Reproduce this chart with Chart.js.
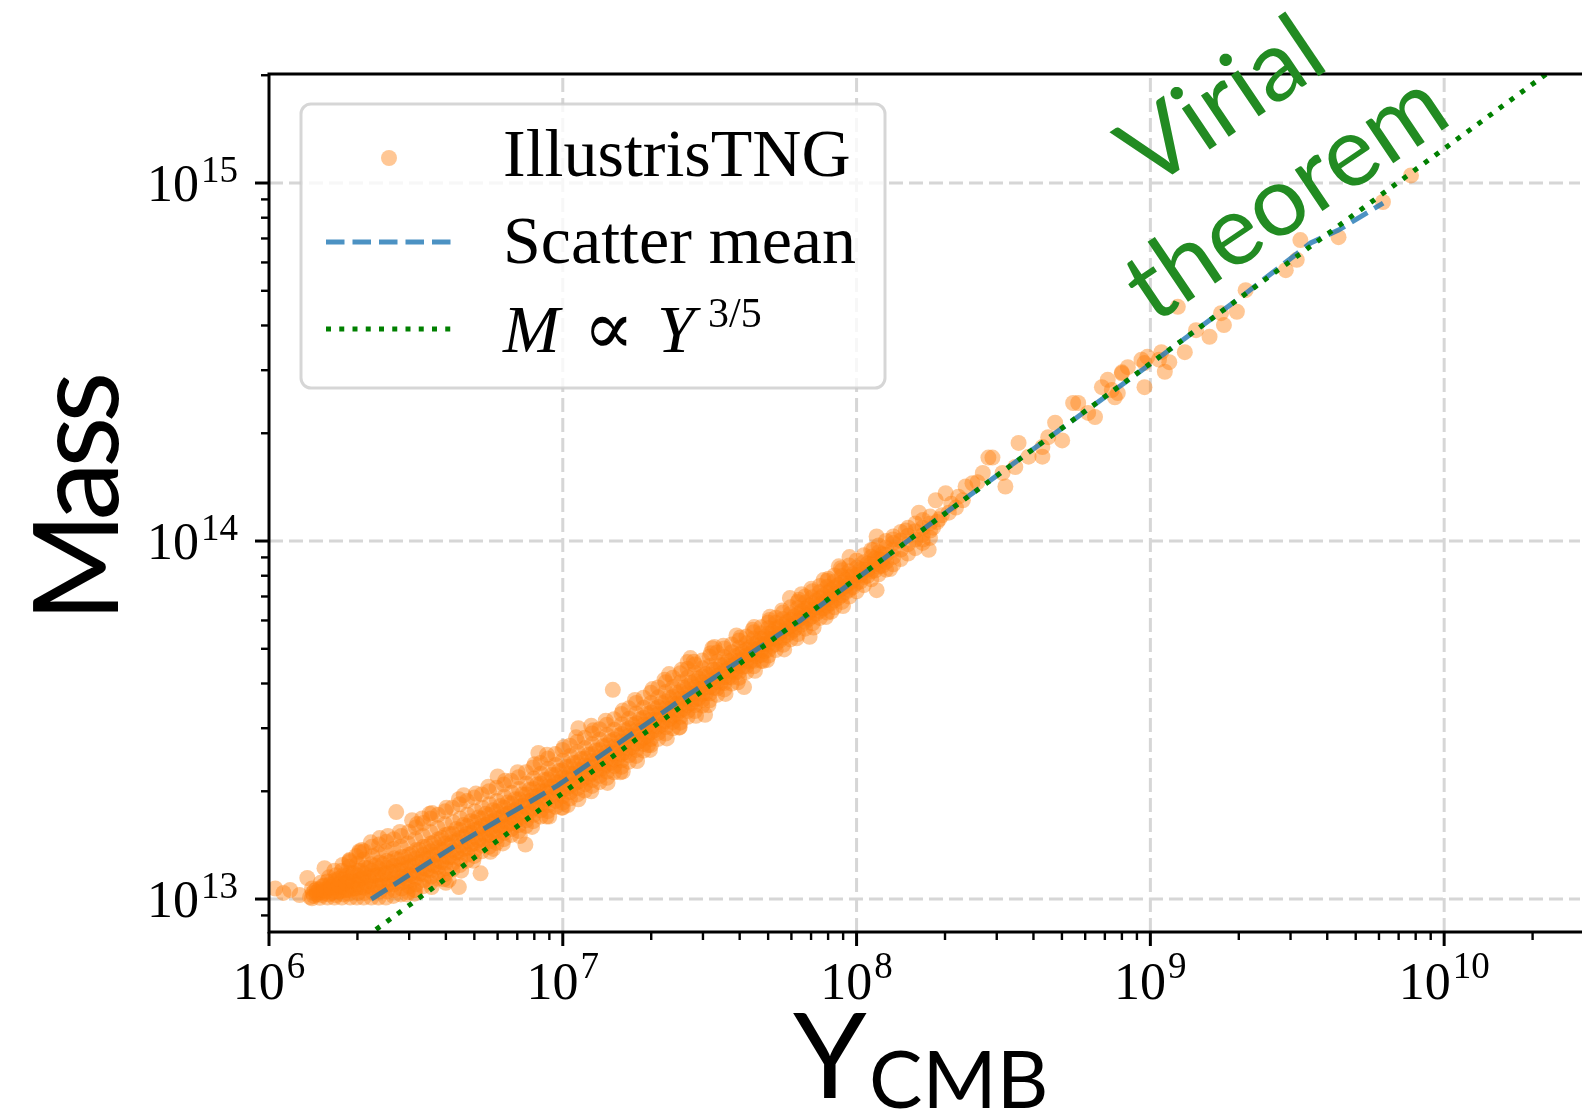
<!DOCTYPE html>
<html><head><meta charset="utf-8">
<script src="https://cdn.jsdelivr.net/npm/chart.js@4.4.1/dist/chart.umd.min.js"></script>
<style>html,body{margin:0;padding:0;background:#fff;overflow:hidden}canvas{display:block}</style>
</head><body>
<canvas id="c" width="1588" height="1116"></canvas>
<script>
// ---------- DATA ----------
const illustrisTNG = [
[1.05e6,1.07e13],[1.12e6,1.04e13],[1.18e6,1.06e13],[1.27e6,1.026e13],[1.35e6,1.145e13],[1.38e6,1.013e13],[1.545e6,1.22e13],[1.88e6,1.27e13],[2.07e6,1.37e13],[2.38e6,1.48e13],[2.71e6,1.75e13],[2.03e6,1.35e13],[1.88e6,1.285e13],[3.32e6,1.68e13],[3.07e6,1.66e13],[3.59e6,1.74e13],
[4.43e6,1.08e13],[5.25e6,1.18e13],[7.46e6,1.42e13],[3.12e6,1.06e13],[4.0e6,1.11e13],[2.95e6,1.03e13],[4.09e6,1.13e13],[1.0e7,1.80e13],[1.04e7,1.83e13],[1.95e7,2.69e13],[3.05e7,3.27e13],
[8.26e6,2.56e13],[1.13e7,3.0e13],[1.48e7,3.84e13],[2.72e7,4.71e13],[3.23e7,5.02e13],
[2.66e7,4.59e13],[3.28e7,5.06e13],[4.48e7,5.75e13],[5.07e7,6.14e13],[5.93e7,6.93e13],[7.72e7,7.78e13],[9.46e7,9.02e13],[1.17e8,1.03e14],[1.63e8,1.2e14],
[4.14e7,3.91e13],[6.92e7,5.40e13],[1.17e8,7.29e13],[1.76e8,9.45e13],
[4.6e6,1.95e13],[6.0e6,2.2e13],[1.25e7,3.05e13],[2.3e7,4.25e13],[3.9e7,5.45e13],[6.5e7,7.1e13],[8.7e7,8.5e13],
[5.8e6,1.38e13],[8.8e6,1.70e13],[1.6e7,2.27e13],[2.5e7,3.02e13],[4.8e7,4.62e13],[8.2e7,6.35e13],[1.3e8,8.35e13],
[2.03e6,1.36e13],[2.22e6,1.44e13],[2.54e6,1.50e13],[2.79e6,1.54e13],[3.19e6,1.62e13],[3.52e6,1.73e13],[4.02e6,1.80e13],[4.43e6,1.90e13],[5.06e6,1.97e13],[5.58e6,2.06e13],[6.37e6,2.14e13],[7.02e6,2.26e13],[8.02e6,2.38e13],[8.84e6,2.53e13],[1.01e7,2.66e13],[1.11e7,2.83e13],[1.27e7,2.96e13],[1.40e7,3.15e13],[1.60e7,3.36e13],[1.76e7,3.60e13],[2.02e7,3.86e13],[2.22e7,4.10e13],[2.54e7,4.37e13],[2.79e7,4.60e13],[3.19e7,4.86e13],[3.52e7,5.10e13],[4.02e7,5.38e13],[4.43e7,5.65e13],[5.06e7,6.02e13],[5.58e7,6.40e13],[6.37e7,6.85e13],[7.02e7,7.36e13],[8.02e7,7.85e13],[8.84e7,8.40e13],
[3.13e6,1.035e13],[3.58e6,1.08e13],[3.94e6,1.135e13],[4.51e6,1.20e13],[4.96e6,1.28e13],[5.67e6,1.355e13],[6.25e6,1.43e13],[7.14e6,1.50e13],[7.86e6,1.59e13],[8.99e6,1.70e13],[9.90e6,1.80e13],[1.13e7,1.90e13],[1.25e7,2.00e13],[1.42e7,2.11e13],[1.57e7,2.26e13],[1.79e7,2.43e13],[1.98e7,2.61e13],[2.26e7,2.81e13],[2.49e7,3.01e13],[2.84e7,3.25e13],[3.13e7,3.48e13],[3.58e7,3.74e13],[3.94e7,4.03e13],[4.51e7,4.34e13],[4.96e7,4.65e13],[5.67e7,4.98e13],[6.25e7,5.35e13],[7.14e7,5.73e13],[7.86e7,6.13e13],[8.99e7,6.58e13],
[1.40e6,1.005e13],[1.42e6,1.02e13],[1.41e6,1.04e13],[1.43e6,1.055e13],[1.40e6,1.07e13],
[1.49e6,1.008e13],[1.51e6,1.025e13],[1.50e6,1.045e13],[1.48e6,1.065e13],[1.52e6,1.085e13],[1.50e6,1.11e13],
[1.58e6,1.01e13],[1.60e6,1.03e13],[1.57e6,1.05e13],[1.59e6,1.07e13],[1.61e6,1.095e13],[1.58e6,1.12e13],[1.60e6,1.15e13],
[1.67e6,1.01e13],[1.69e6,1.025e13],[1.68e6,1.05e13],[1.70e6,1.075e13],[1.66e6,1.10e13],[1.68e6,1.13e13],[1.69e6,1.165e13],[1.67e6,1.20e13],
[1.77e6,1.01e13],[1.79e6,1.03e13],[1.78e6,1.055e13],[1.76e6,1.08e13],[1.80e6,1.105e13],[1.78e6,1.135e13],[1.79e6,1.165e13],[1.77e6,1.20e13],[1.78e6,1.245e13],
[1.89e6,1.01e13],[1.87e6,1.035e13],[1.88e6,1.06e13],[1.90e6,1.09e13],[1.86e6,1.12e13],[1.88e6,1.15e13],[1.89e6,1.185e13],[1.87e6,1.23e13],[1.88e6,1.28e13],
[1.99e6,1.01e13],[2.01e6,1.04e13],[1.98e6,1.07e13],[2.00e6,1.10e13],[2.02e6,1.13e13],[1.99e6,1.165e13],[2.01e6,1.20e13],[2.00e6,1.255e13],[1.98e6,1.32e13],
[2.10e6,1.01e13],[2.12e6,1.04e13],[2.11e6,1.075e13],[2.13e6,1.11e13],[2.09e6,1.145e13],[2.11e6,1.18e13],[2.12e6,1.225e13],[2.10e6,1.29e13],[2.11e6,1.36e13],
[2.23e6,1.01e13],[2.25e6,1.045e13],[2.24e6,1.08e13],[2.22e6,1.12e13],[2.26e6,1.16e13],[2.24e6,1.20e13],[2.23e6,1.25e13],[2.25e6,1.32e13],[2.24e6,1.40e13],
[2.36e6,1.01e13],[2.38e6,1.05e13],[2.37e6,1.09e13],[2.39e6,1.13e13],[2.35e6,1.17e13],[2.37e6,1.215e13],[2.38e6,1.265e13],[2.36e6,1.34e13],[2.37e6,1.42e13],
[2.50e6,1.01e13],[2.52e6,1.05e13],[2.51e6,1.09e13],[2.53e6,1.135e13],[2.49e6,1.18e13],[2.51e6,1.225e13],[2.52e6,1.28e13],[2.50e6,1.36e13],[2.51e6,1.445e13],
[2.65e6,1.02e13],[2.67e6,1.06e13],[2.66e6,1.10e13],[2.68e6,1.145e13],[2.64e6,1.19e13],[2.66e6,1.24e13],[2.67e6,1.30e13],[2.65e6,1.38e13],[2.66e6,1.47e13],
[2.81e6,1.03e13],[2.83e6,1.07e13],[2.82e6,1.11e13],[2.84e6,1.155e13],[2.80e6,1.20e13],[2.82e6,1.25e13],[2.83e6,1.31e13],[2.81e6,1.40e13],[2.82e6,1.50e13],
[2.97e6,1.045e13],[3.00e6,1.085e13],[2.98e6,1.125e13],[3.01e6,1.17e13],[2.96e6,1.22e13],[2.99e6,1.27e13],[3.00e6,1.33e13],[2.97e6,1.43e13],[2.99e6,1.54e13],
[3.15e6,1.06e13],[3.17e6,1.10e13],[3.16e6,1.145e13],[3.18e6,1.19e13],[3.14e6,1.24e13],[3.16e6,1.30e13],[3.17e6,1.37e13],[3.15e6,1.47e13],[3.16e6,1.585e13],
[3.34e6,1.085e13],[3.36e6,1.13e13],[3.35e6,1.175e13],[3.37e6,1.22e13],[3.33e6,1.27e13],[3.35e6,1.33e13],[3.36e6,1.40e13],[3.34e6,1.50e13],[3.35e6,1.63e13],
[3.54e6,1.11e13],[3.56e6,1.155e13],[3.55e6,1.20e13],[3.57e6,1.25e13],[3.53e6,1.30e13],[3.55e6,1.36e13],[3.56e6,1.43e13],[3.54e6,1.54e13],[3.55e6,1.68e13],
[3.75e6,1.14e13],[3.77e6,1.185e13],[3.76e6,1.23e13],[3.78e6,1.28e13],[3.74e6,1.33e13],[3.76e6,1.39e13],[3.77e6,1.47e13],[3.75e6,1.58e13],[3.76e6,1.72e13],
[3.97e6,1.175e13],[3.99e6,1.22e13],[3.98e6,1.265e13],[4.00e6,1.315e13],[3.96e6,1.37e13],[3.98e6,1.43e13],[3.99e6,1.51e13],[3.97e6,1.62e13],[3.98e6,1.76e13],
[4.21e6,1.21e13],[4.23e6,1.26e13],[4.22e6,1.31e13],[4.24e6,1.37e13],[4.20e6,1.44e13],[4.22e6,1.52e13],[4.23e6,1.64e13],[4.21e6,1.80e13],
[4.46e6,1.245e13],[4.48e6,1.295e13],[4.47e6,1.35e13],[4.49e6,1.41e13],[4.45e6,1.48e13],[4.47e6,1.56e13],[4.48e6,1.68e13],[4.46e6,1.84e13],
[4.72e6,1.28e13],[4.74e6,1.33e13],[4.73e6,1.39e13],[4.75e6,1.45e13],[4.71e6,1.52e13],[4.73e6,1.60e13],[4.74e6,1.72e13],[4.72e6,1.88e13],
[5.00e6,1.32e13],[5.02e6,1.37e13],[5.01e6,1.43e13],[5.03e6,1.49e13],[4.99e6,1.56e13],[5.01e6,1.64e13],[5.02e6,1.76e13],[5.00e6,1.92e13],
[5.30e6,1.36e13],[5.32e6,1.41e13],[5.31e6,1.47e13],[5.33e6,1.53e13],[5.29e6,1.60e13],[5.31e6,1.68e13],[5.32e6,1.80e13],[5.30e6,1.96e13],
[5.61e6,1.40e13],[5.63e6,1.45e13],[5.62e6,1.51e13],[5.64e6,1.57e13],[5.60e6,1.64e13],[5.62e6,1.72e13],[5.63e6,1.84e13],[5.61e6,2.00e13],
[5.95e6,1.435e13],[5.97e6,1.49e13],[5.96e6,1.55e13],[5.98e6,1.61e13],[5.94e6,1.68e13],[5.96e6,1.76e13],[5.97e6,1.88e13],[5.95e6,2.045e13],
[6.30e6,1.47e13],[6.32e6,1.53e13],[6.31e6,1.59e13],[6.33e6,1.65e13],[6.29e6,1.72e13],[6.31e6,1.80e13],[6.32e6,1.93e13],[6.30e6,2.09e13],
[6.67e6,1.51e13],[6.69e6,1.57e13],[6.68e6,1.63e13],[6.70e6,1.69e13],[6.66e6,1.76e13],[6.68e6,1.85e13],[6.69e6,1.98e13],[6.67e6,2.14e13],
[7.07e6,1.55e13],[7.09e6,1.61e13],[7.08e6,1.67e13],[7.10e6,1.74e13],[7.06e6,1.81e13],[7.08e6,1.90e13],[7.09e6,2.03e13],[7.07e6,2.19e13],
[7.49e6,1.60e13],[7.51e6,1.66e13],[7.50e6,1.73e13],[7.52e6,1.80e13],[7.48e6,1.87e13],[7.50e6,1.96e13],[7.51e6,2.10e13],[7.49e6,2.26e13],
[7.93e6,1.65e13],[7.95e6,1.72e13],[7.94e6,1.79e13],[7.96e6,1.86e13],[7.92e6,1.93e13],[7.94e6,2.03e13],[7.95e6,2.17e13],[7.93e6,2.33e13],
[8.40e6,1.70e13],[8.42e6,1.77e13],[8.41e6,1.84e13],[8.43e6,1.92e13],[8.39e6,2.00e13],[8.41e6,2.10e13],[8.42e6,2.24e13],[8.40e6,2.40e13],
[8.90e6,1.76e13],[8.92e6,1.83e13],[8.91e6,1.90e13],[8.93e6,1.98e13],[8.89e6,2.06e13],[8.91e6,2.16e13],[8.92e6,2.31e13],[8.90e6,2.47e13],
[9.43e6,1.81e13],[9.45e6,1.88e13],[9.44e6,1.96e13],[9.46e6,2.04e13],[9.42e6,2.12e13],[9.44e6,2.22e13],[9.45e6,2.37e13],[9.43e6,2.54e13],
[9.99e6,1.86e13],[1.002e7,1.94e13],[1.0e7,2.02e13],[1.003e7,2.10e13],[9.97e6,2.18e13],[1.0e7,2.29e13],[1.001e7,2.44e13],[9.98e6,2.61e13],
[1.058e7,1.91e13],[1.061e7,1.99e13],[1.059e7,2.07e13],[1.062e7,2.15e13],[1.056e7,2.24e13],[1.059e7,2.35e13],[1.060e7,2.51e13],[1.058e7,2.68e13],
[1.121e7,1.96e13],[1.124e7,2.04e13],[1.122e7,2.12e13],[1.125e7,2.21e13],[1.119e7,2.30e13],[1.122e7,2.41e13],[1.123e7,2.57e13],[1.121e7,2.75e13],
[1.188e7,2.01e13],[1.191e7,2.09e13],[1.189e7,2.18e13],[1.192e7,2.27e13],[1.186e7,2.36e13],[1.189e7,2.47e13],[1.190e7,2.64e13],[1.188e7,2.82e13],
[1.258e7,2.07e13],[1.261e7,2.15e13],[1.259e7,2.24e13],[1.262e7,2.33e13],[1.256e7,2.43e13],[1.259e7,2.54e13],[1.260e7,2.71e13],[1.258e7,2.90e13],
[1.333e7,2.12e13],[1.336e7,2.21e13],[1.334e7,2.30e13],[1.337e7,2.39e13],[1.331e7,2.49e13],[1.334e7,2.61e13],[1.335e7,2.79e13],[1.333e7,2.98e13],
[1.412e7,2.18e13],[1.415e7,2.27e13],[1.413e7,2.37e13],[1.416e7,2.46e13],[1.410e7,2.57e13],[1.413e7,2.69e13],[1.414e7,2.87e13],[1.412e7,3.07e13],
[1.495e7,2.26e13],[1.498e7,2.35e13],[1.496e7,2.45e13],[1.499e7,2.55e13],[1.493e7,2.66e13],[1.496e7,2.79e13],[1.497e7,2.97e13],[1.495e7,3.18e13],
[1.584e7,2.34e13],[1.587e7,2.44e13],[1.585e7,2.54e13],[1.588e7,2.64e13],[1.582e7,2.76e13],[1.585e7,2.89e13],[1.586e7,3.08e13],[1.584e7,3.29e13],
[1.678e7,2.42e13],[1.681e7,2.52e13],[1.679e7,2.63e13],[1.682e7,2.74e13],[1.676e7,2.86e13],[1.679e7,3.00e13],[1.680e7,3.19e13],[1.678e7,3.41e13],
[1.777e7,2.51e13],[1.780e7,2.61e13],[1.778e7,2.72e13],[1.781e7,2.84e13],[1.775e7,2.96e13],[1.778e7,3.10e13],[1.779e7,3.30e13],[1.777e7,3.53e13],
[1.883e7,2.60e13],[1.886e7,2.71e13],[1.884e7,2.82e13],[1.887e7,2.94e13],[1.881e7,3.07e13],[1.884e7,3.21e13],[1.885e7,3.42e13],[1.883e7,3.65e13],
[1.994e7,2.69e13],[1.997e7,2.80e13],[1.995e7,2.92e13],[1.998e7,3.04e13],[1.992e7,3.17e13],[1.995e7,3.32e13],[1.996e7,3.53e13],[1.994e7,3.77e13],
[2.112e7,2.80e13],[2.115e7,2.91e13],[2.113e7,3.03e13],[2.116e7,3.16e13],[2.110e7,3.29e13],[2.113e7,3.44e13],[2.114e7,3.66e13],[2.112e7,3.90e13],
[2.238e7,2.90e13],[2.241e7,3.02e13],[2.239e7,3.14e13],[2.242e7,3.27e13],[2.236e7,3.41e13],[2.239e7,3.57e13],[2.240e7,3.79e13],[2.238e7,4.03e13],
[2.370e7,3.00e13],[2.373e7,3.12e13],[2.371e7,3.25e13],[2.374e7,3.38e13],[2.368e7,3.52e13],[2.371e7,3.68e13],[2.372e7,3.91e13],[2.370e7,4.15e13],
[2.511e7,3.11e13],[2.514e7,3.23e13],[2.512e7,3.36e13],[2.515e7,3.50e13],[2.509e7,3.64e13],[2.512e7,3.80e13],[2.513e7,4.03e13],[2.511e7,4.27e13],
[2.660e7,3.23e13],[2.663e7,3.35e13],[2.661e7,3.48e13],[2.664e7,3.62e13],[2.658e7,3.77e13],[2.661e7,3.93e13],[2.662e7,4.16e13],[2.660e7,4.40e13],
[2.817e7,3.35e13],[2.820e7,3.48e13],[2.818e7,3.61e13],[2.821e7,3.75e13],[2.815e7,3.90e13],[2.818e7,4.06e13],[2.819e7,4.28e13],[2.817e7,4.52e13],
[2.984e7,3.47e13],[2.987e7,3.60e13],[2.985e7,3.74e13],[2.988e7,3.88e13],[2.982e7,4.03e13],[2.985e7,4.19e13],[2.986e7,4.41e13],[2.984e7,4.64e13],
[3.161e7,3.59e13],[3.164e7,3.75e13],[3.162e7,3.91e13],[3.165e7,4.07e13],[3.159e7,4.24e13],[3.162e7,4.48e13],[3.161e7,4.76e13],
[3.349e7,3.72e13],[3.352e7,3.88e13],[3.350e7,4.04e13],[3.353e7,4.20e13],[3.347e7,4.37e13],[3.350e7,4.60e13],[3.349e7,4.88e13],
[3.547e7,3.85e13],[3.550e7,4.01e13],[3.548e7,4.17e13],[3.551e7,4.34e13],[3.545e7,4.51e13],[3.548e7,4.74e13],[3.547e7,5.01e13],
[3.757e7,4.00e13],[3.760e7,4.16e13],[3.758e7,4.32e13],[3.761e7,4.49e13],[3.755e7,4.66e13],[3.758e7,4.89e13],[3.757e7,5.14e13],
[3.980e7,4.15e13],[3.983e7,4.31e13],[3.981e7,4.47e13],[3.984e7,4.64e13],[3.978e7,4.81e13],[3.981e7,5.03e13],[3.980e7,5.27e13],
[4.216e7,4.31e13],[4.219e7,4.47e13],[4.217e7,4.63e13],[4.220e7,4.80e13],[4.214e7,4.97e13],[4.217e7,5.18e13],[4.216e7,5.41e13],
[4.466e7,4.47e13],[4.469e7,4.63e13],[4.467e7,4.80e13],[4.470e7,4.97e13],[4.464e7,5.14e13],[4.467e7,5.34e13],[4.466e7,5.56e13],
[4.731e7,4.63e13],[4.734e7,4.80e13],[4.732e7,4.97e13],[4.735e7,5.15e13],[4.729e7,5.33e13],[4.732e7,5.53e13],[4.731e7,5.74e13],
[5.011e7,4.79e13],[5.014e7,4.97e13],[5.012e7,5.15e13],[5.015e7,5.33e13],[5.009e7,5.52e13],[5.012e7,5.72e13],[5.011e7,5.92e13],
[5.308e7,4.96e13],[5.311e7,5.15e13],[5.309e7,5.34e13],[5.312e7,5.52e13],[5.306e7,5.71e13],[5.309e7,5.91e13],[5.308e7,6.11e13],
[5.622e7,5.13e13],[5.625e7,5.37e13],[5.623e7,5.60e13],[5.626e7,5.83e13],[5.620e7,6.06e13],[5.623e7,6.31e13],
[5.956e7,5.31e13],[5.959e7,5.55e13],[5.957e7,5.79e13],[5.960e7,6.03e13],[5.954e7,6.27e13],[5.957e7,6.53e13],
[6.309e7,5.50e13],[6.312e7,5.75e13],[6.310e7,6.00e13],[6.313e7,6.25e13],[6.307e7,6.50e13],[6.310e7,6.76e13],
[6.682e7,5.69e13],[6.685e7,5.95e13],[6.683e7,6.21e13],[6.686e7,6.47e13],[6.680e7,6.73e13],[6.683e7,7.00e13],
[7.078e7,5.89e13],[7.081e7,6.16e13],[7.079e7,6.43e13],[7.082e7,6.70e13],[7.076e7,6.97e13],[7.079e7,7.24e13],
[7.498e7,6.10e13],[7.501e7,6.38e13],[7.499e7,6.66e13],[7.502e7,6.93e13],[7.496e7,7.21e13],[7.499e7,7.49e13],
[7.942e7,6.31e13],[7.945e7,6.60e13],[7.943e7,6.88e13],[7.946e7,7.17e13],[7.940e7,7.45e13],[7.943e7,7.74e13],
[8.413e7,6.53e13],[8.416e7,6.83e13],[8.414e7,7.12e13],[8.417e7,7.42e13],[8.411e7,7.71e13],[8.414e7,8.01e13],
[8.912e7,6.76e13],[8.915e7,7.06e13],[8.913e7,7.37e13],[8.916e7,7.67e13],[8.910e7,7.98e13],[8.913e7,8.28e13],
[9.440e7,7.00e13],[9.443e7,7.31e13],[9.441e7,7.62e13],[9.444e7,7.93e13],[9.438e7,8.24e13],[9.441e7,8.55e13],
[1.000e8,7.24e13],[1.001e8,7.64e13],[9.99e7,8.03e13],[1.002e8,8.43e13],[1.000e8,8.83e13],
[1.059e8,7.53e13],[1.060e8,7.93e13],[1.058e8,8.33e13],[1.061e8,8.73e13],[1.059e8,9.13e13],
[1.122e8,7.82e13],[1.123e8,8.23e13],[1.121e8,8.63e13],[1.124e8,9.04e13],[1.122e8,9.44e13],
[1.189e8,8.07e13],[1.190e8,8.48e13],[1.188e8,8.90e13],[1.191e8,9.31e13],[1.189e8,9.72e13],
[1.259e8,8.32e13],[1.260e8,8.74e13],[1.258e8,9.16e13],[1.261e8,9.58e13],[1.259e8,1.00e14],
[1.334e8,8.61e13],[1.335e8,9.03e13],[1.333e8,9.46e13],[1.336e8,9.88e13],[1.334e8,1.03e14],
[1.413e8,8.91e13],[1.414e8,9.47e13],[1.412e8,1.003e14],[1.415e8,1.06e14],
[1.496e8,9.23e13],[1.497e8,9.80e13],[1.495e8,1.035e14],[1.498e8,1.09e14],
[1.585e8,9.55e13],[1.586e8,1.01e14],[1.584e8,1.065e14],[1.587e8,1.12e14],
[1.679e8,9.88e13],[1.680e8,1.04e14],[1.678e8,1.09e14],[1.681e8,1.145e14],
[1.778e8,1.02e14],[1.779e8,1.07e14],[1.777e8,1.12e14],[1.780e8,1.17e14],
[1.454e6,1.03e13],[1.454e6,1.045e13],[1.454e6,1.065e13],[1.540e6,1.04e13],[1.540e6,1.06e13],[1.540e6,1.09e13],
[1.631e6,1.04e13],[1.631e6,1.08e13],[1.631e6,1.12e13],[1.728e6,1.05e13],[1.728e6,1.095e13],[1.728e6,1.14e13],
[1.830e6,1.06e13],[1.830e6,1.11e13],[1.830e6,1.16e13],[1.939e6,1.07e13],[1.939e6,1.12e13],[1.939e6,1.18e13],
[2.053e6,1.08e13],[2.053e6,1.14e13],[2.053e6,1.20e13],[2.175e6,1.09e13],[2.175e6,1.15e13],[2.175e6,1.22e13],
[2.304e6,1.09e13],[2.304e6,1.16e13],[2.304e6,1.24e13],[2.441e6,1.10e13],[2.441e6,1.17e13],[2.441e6,1.25e13],
[2.585e6,1.11e13],[2.585e6,1.19e13],[2.585e6,1.27e13],[2.739e6,1.12e13],[2.739e6,1.20e13],[2.739e6,1.29e13],
[2.901e6,1.14e13],[2.901e6,1.22e13],[2.901e6,1.31e13],[3.073e6,1.16e13],[3.073e6,1.24e13],[3.073e6,1.34e13],
[3.255e6,1.18e13],[3.255e6,1.27e13],[3.255e6,1.37e13],[3.448e6,1.21e13],[3.448e6,1.30e13],[3.448e6,1.40e13],
[3.652e6,1.24e13],[3.652e6,1.33e13],[3.652e6,1.44e13],[3.868e6,1.27e13],[3.868e6,1.37e13],[3.868e6,1.48e13],
[4.097e6,1.31e13],[4.097e6,1.41e13],[4.097e6,1.52e13],[4.340e6,1.35e13],[4.340e6,1.45e13],[4.340e6,1.57e13],
[4.597e6,1.38e13],[4.597e6,1.49e13],[4.597e6,1.61e13],[4.870e6,1.42e13],[4.870e6,1.53e13],[4.870e6,1.65e13],
[5.158e6,1.46e13],[5.158e6,1.57e13],[5.158e6,1.69e13],[5.464e6,1.50e13],[5.464e6,1.61e13],[5.464e6,1.73e13],
[5.788e6,1.54e13],[5.788e6,1.65e13],[5.788e6,1.77e13],[6.131e6,1.58e13],[6.131e6,1.69e13],[6.131e6,1.82e13],
[6.494e6,1.61e13],[6.494e6,1.73e13],[6.494e6,1.86e13],[6.879e6,1.65e13],[6.879e6,1.77e13],[6.879e6,1.90e13],
[7.286e6,1.70e13],[7.286e6,1.82e13],[7.286e6,1.96e13],[7.718e6,1.75e13],[7.718e6,1.88e13],[7.718e6,2.02e13],
[8.175e6,1.81e13],[8.175e6,1.94e13],[8.175e6,2.09e13],[8.660e6,1.87e13],[8.660e6,2.00e13],[8.660e6,2.15e13],
[9.173e6,1.93e13],[9.173e6,2.06e13],[9.173e6,2.22e13],[9.716e6,1.98e13],[9.716e6,2.12e13],[9.716e6,2.28e13],
[1.029e7,2.03e13],[1.029e7,2.17e13],[1.029e7,2.34e13],[1.090e7,2.09e13],[1.090e7,2.23e13],[1.090e7,2.40e13],
[1.155e7,2.14e13],[1.155e7,2.29e13],[1.155e7,2.46e13],[1.223e7,2.20e13],[1.223e7,2.35e13],[1.223e7,2.53e13],
[1.296e7,2.26e13],[1.296e7,2.42e13],[1.296e7,2.60e13],[1.373e7,2.32e13],[1.373e7,2.49e13],[1.373e7,2.67e13],
[1.454e7,2.40e13],[1.454e7,2.57e13],[1.454e7,2.76e13],[1.540e7,2.48e13],[1.540e7,2.66e13],[1.540e7,2.86e13],
[1.631e7,2.57e13],[1.631e7,2.75e13],[1.631e7,2.96e13],[1.728e7,2.66e13],[1.728e7,2.85e13],[1.728e7,3.07e13],
[1.830e7,2.76e13],[1.830e7,2.95e13],[1.830e7,3.18e13],[1.939e7,2.86e13],[1.939e7,3.06e13],[1.939e7,3.29e13],
[2.053e7,2.96e13],[2.053e7,3.17e13],[2.053e7,3.41e13],[2.175e7,3.07e13],[2.175e7,3.29e13],[2.175e7,3.53e13],
[2.304e7,3.18e13],[2.304e7,3.40e13],[2.304e7,3.65e13],[2.441e7,3.29e13],[2.441e7,3.51e13],[2.441e7,3.77e13],
[2.585e7,3.40e13],[2.585e7,3.63e13],[2.585e7,3.89e13],[2.739e7,3.52e13],[2.739e7,3.75e13],[2.739e7,4.01e13],
[2.901e7,3.64e13],[2.901e7,3.87e13],[2.901e7,4.13e13],[3.073e7,3.76e13],[3.073e7,3.99e13],[3.073e7,4.25e13],
[3.255e7,3.89e13],[3.255e7,4.12e13],[3.255e7,4.37e13],[3.448e7,4.02e13],[3.448e7,4.25e13],[3.448e7,4.50e13],
[3.652e7,4.16e13],[3.652e7,4.39e13],[3.652e7,4.64e13],[3.868e7,4.30e13],[3.868e7,4.53e13],[3.868e7,4.77e13],
[4.097e7,4.45e13],[4.097e7,4.67e13],[4.097e7,4.90e13],[4.340e7,4.61e13],[4.340e7,4.83e13],[4.340e7,5.05e13],
[4.597e7,4.77e13],[4.597e7,4.99e13],[4.597e7,5.21e13],[4.870e7,4.93e13],[4.870e7,5.16e13],[4.870e7,5.39e13],
[5.158e7,5.10e13],[5.158e7,5.33e13],[5.158e7,5.56e13],[5.464e7,5.27e13],[5.464e7,5.51e13],[5.464e7,5.75e13],
[5.788e7,5.46e13],[5.788e7,5.70e13],[5.788e7,5.94e13],[6.131e7,5.65e13],[6.131e7,5.90e13],[6.131e7,6.15e13],
[6.494e7,5.85e13],[6.494e7,6.11e13],[6.494e7,6.37e13],[6.879e7,6.06e13],[6.879e7,6.32e13],[6.879e7,6.59e13],
[7.286e7,6.27e13],[7.286e7,6.54e13],[7.286e7,6.82e13],[7.718e7,6.49e13],[7.718e7,6.77e13],[7.718e7,7.05e13],
[8.175e7,6.71e13],[8.175e7,7.00e13],[8.175e7,7.29e13],[8.660e7,6.94e13],[8.660e7,7.24e13],[8.660e7,7.54e13],
[9.173e7,7.19e13],[9.173e7,7.49e13],[9.173e7,7.80e13],[9.716e7,7.43e13],[9.716e7,7.75e13],[9.716e7,8.06e13],
[1.029e8,7.70e13],[1.029e8,8.02e13],[1.029e8,8.34e13],[1.090e8,8.00e13],[1.090e8,8.32e13],[1.090e8,8.64e13],
[1.155e8,8.27e13],[1.155e8,8.60e13],[1.155e8,8.93e13],[1.223e8,8.53e13],[1.223e8,8.86e13],[1.223e8,9.19e13],
[1.14e8,9.45e13],[1.33e8,1.01e14],[1.47e8,1.07e14],[1.91e8,1.15e14],[1.86e8,1.30e14],[2.01e8,1.36e14],[2.18e8,1.24e14],[2.35e8,1.42e14],[2.58e8,1.46e14],[2.69e8,1.55e14],[2.90e8,1.71e14],[3.14e8,1.55e14],[3.21e8,1.42e14],[3.47e8,1.61e14],[3.56e8,1.88e14],[3.85e8,1.72e14],[4.29e8,1.83e14],[4.49e8,1.95e14],[4.74e8,2.14e14],[5.01e8,1.91e14],[5.68e8,2.43e14],[6.14e8,2.28e14],[6.48e8,2.22e14],[6.84e8,2.69e14],[7.39e8,2.64e14],[7.75e8,2.59e14],[8.0e8,2.94e14],[9.33e8,3.21e14],[9.55e8,2.69e14],[9.77e8,3.27e14],[7.16e8,2.82e14],[7.57e8,2.52e14],[5.46e8,2.43e14],[4.29e8,1.72e14],[2.81e8,1.71e14],[2.48e8,1.45e14],[2.30e8,1.30e14],[2.06e8,1.20e14],[1.82e8,1.09e14],[1.68e8,1.01e14],[1.95e8,1.18e14],[2.10e8,1.27e14],[1.88e8,1.13e14],[2.22e8,1.33e14],
[8.0e8,2.96e14],[8.38e8,3.06e14],[9.55e8,3.14e14],[1.07e9,3.21e14],[1.12e9,2.97e14],[1.09e9,3.37e14],[1.16e9,3.16e14],[1.31e9,3.37e14],[1.24e9,4.51e14],[1.43e9,3.88e14],[1.59e9,3.72e14],[1.78e9,4.01e14],[1.74e9,4.33e14],[1.97e9,4.37e14],[2.11e9,5.02e14],[2.89e9,5.71e14],[3.15e9,6.10e14],[3.24e9,6.93e14],[4.37e9,7.06e14],[6.19e9,8.85e14],[7.71e9,1.05e15]
];
const scatterMean = [[2.23e6,1.0e13],[4.43e6,1.43e13],[9.64e6,2.08e13],[2.66e7,3.71e13],[6.40e7,5.98e13],[1.86e8,1.145e14],[1.01e9,3.14e14],[2.08e9,4.87e14],[3.51e9,6.80e14],[4.37e9,7.39e14],[6.2e9,8.79e14]];
const virialLine = [[1.0e6,4.97e12],[3.0e10,2.41e15]];
const xRange = [1e6, 2.9e10];
const yRange = [8.09e12, 2.016e15];
const xMajorTicks = [1e6,1e7,1e8,1e9,1e10];
const xTickExponents = ['6','7','8','9','10'];
const yMajorTicks = [1e13,1e14,1e15];
const yTickExponents = ['13','14','15'];
const xMinorTicks = [2e6,3e6,4e6,5e6,6e6,7e6,8e6,9e6,2e7,3e7,4e7,5e7,6e7,7e7,8e7,9e7,2e8,3e8,4e8,5e8,6e8,7e8,8e8,9e8,2e9,3e9,4e9,5e9,6e9,7e9,8e9,9e9,2e10];
const yMinorTicks = [9e12,2e13,3e13,4e13,5e13,6e13,7e13,8e13,9e13,2e14,3e14,4e14,5e14,6e14,7e14,8e14,9e14,2e15];
const legendLabels = ['IllustrisTNG','Scatter mean'];

// ---------- STYLE ----------
const SERIF = '"Liberation Serif","DejaVu Serif",serif';
const SANS = 'Lato,"Open Sans",sans-serif';
const ORANGE = 'rgba(255,127,14,0.44)';
const BLUE = 'rgba(31,119,180,0.8)';
const GREEN = '#008000';

function toXY(arr){ return arr.map(p => ({x:p[0], y:p[1]})); }

function powLabel(ctx, exp, x, baseY, align, baseSize, expSize, raise){
  ctx.font = baseSize + 'px ' + SERIF;
  const wb = ctx.measureText('10').width;
  ctx.font = expSize + 'px ' + SERIF;
  const we = ctx.measureText(exp).width;
  const gap = 2;
  const total = wb + gap + we;
  const x0 = align === 'right' ? x - total : x - total/2;
  ctx.textAlign = 'left';
  ctx.font = baseSize + 'px ' + SERIF;
  ctx.fillText('10', x0, baseY);
  ctx.font = expSize + 'px ' + SERIF;
  ctx.fillText(exp, x0 + wb + gap, baseY - raise);
}

const mplPlugin = {
  id: 'mpl',
  beforeDatasetsDraw(chart){
    const {ctx, chartArea:a, scales:{x, y}} = chart;
    ctx.save();
    ctx.strokeStyle = '#d6d6d6';
    ctx.lineWidth = 3;
    ctx.setLineDash([14, 6]);
    xMajorTicks.forEach(v => {
      const px = x.getPixelForValue(v);
      if (px > a.left + 2 && px < a.right) { ctx.beginPath(); ctx.moveTo(px, a.bottom); ctx.lineTo(px, a.top); ctx.stroke(); }
    });
    yMajorTicks.forEach(v => {
      const py = y.getPixelForValue(v);
      if (py > a.top && py < a.bottom - 2) { ctx.beginPath(); ctx.moveTo(a.left, py); ctx.lineTo(a.right, py); ctx.stroke(); }
    });
    ctx.restore();
  },
  afterDatasetsDraw(chart){
    const {ctx, chartArea:a, scales:{x, y}} = chart;
    ctx.save();
    ctx.strokeStyle = '#000'; ctx.lineWidth = 3; ctx.setLineDash([]);
    ctx.beginPath();
    ctx.moveTo(a.right + 2, a.top); ctx.lineTo(a.left, a.top); ctx.lineTo(a.left, a.bottom); ctx.lineTo(a.right + 2, a.bottom);
    ctx.stroke();
    const inX = v => v >= xRange[0] && v <= xRange[1];
    const inY = v => v >= yRange[0] && v <= yRange[1];
    ctx.lineWidth = 3;
    xMajorTicks.filter(inX).forEach(v => { const px = x.getPixelForValue(v); ctx.beginPath(); ctx.moveTo(px, a.bottom); ctx.lineTo(px, a.bottom + 14); ctx.stroke(); });
    yMajorTicks.filter(inY).forEach(v => { const py = y.getPixelForValue(v); ctx.beginPath(); ctx.moveTo(a.left, py); ctx.lineTo(a.left - 14, py); ctx.stroke(); });
    ctx.lineWidth = 2.4;
    xMinorTicks.filter(inX).forEach(v => { const px = x.getPixelForValue(v); ctx.beginPath(); ctx.moveTo(px, a.bottom); ctx.lineTo(px, a.bottom + 8); ctx.stroke(); });
    yMinorTicks.filter(inY).forEach(v => { const py = y.getPixelForValue(v); ctx.beginPath(); ctx.moveTo(a.left, py); ctx.lineTo(a.left - 8, py); ctx.stroke(); });
    ctx.fillStyle = '#000';
    ctx.textBaseline = 'alphabetic';
    xMajorTicks.forEach((v, i) => { if (!inX(v)) return; powLabel(ctx, xTickExponents[i], x.getPixelForValue(v), a.bottom + 67, 'center', 52, 37, 21); });
    yMajorTicks.forEach((v, i) => { if (!inY(v)) return; powLabel(ctx, yTickExponents[i], 238, y.getPixelForValue(v) + 18, 'right', 52, 37, 19); });
    // axis titles
    ctx.save();
    ctx.translate(118, 500);
    ctx.rotate(-Math.PI/2);
    ctx.textAlign = 'center';
    ctx.font = '118px ' + SANS;
    ctx.letterSpacing = '-6px';
    ctx.fillText('Mass', 0, 0);
    ctx.restore();
    ctx.textAlign = 'left';
    ctx.font = '118px ' + SANS;
    ctx.fillText('Y', 793, 1098);
    ctx.font = '80px ' + SANS;
    ctx.fillText('CMB', 869, 1108);
    // legend
    ctx.beginPath();
    ctx.roundRect(301, 104, 584, 284, 10);
    ctx.fillStyle = 'rgba(255,255,255,0.8)'; ctx.fill();
    ctx.strokeStyle = 'rgba(204,204,204,0.8)'; ctx.lineWidth = 3; ctx.stroke();
    ctx.fillStyle = ORANGE;
    ctx.beginPath(); ctx.arc(389, 158, 8, 0, Math.PI*2); ctx.fill();
    ctx.lineWidth = 5;
    ctx.strokeStyle = BLUE; ctx.setLineDash([18.5, 8]);
    ctx.beginPath(); ctx.moveTo(326, 242); ctx.lineTo(453, 242); ctx.stroke();
    ctx.strokeStyle = GREEN; ctx.setLineDash([5, 8.25]);
    ctx.beginPath(); ctx.moveTo(326, 329); ctx.lineTo(453, 329); ctx.stroke();
    ctx.setLineDash([]);
    ctx.fillStyle = '#000';
    ctx.font = '68px ' + SERIF;
    ctx.fillText(legendLabels[0], 503, 176);
    ctx.fillText(legendLabels[1], 503, 263);
    ctx.font = 'italic 68px ' + SERIF;
    ctx.fillText('M', 503, 352);
    ctx.font = '76px "DejaVu Serif",serif';
    ctx.textBaseline = 'middle';
    ctx.fillText('\u221D', 583, 334);
    ctx.textBaseline = 'alphabetic';
    ctx.font = 'italic 68px ' + SERIF;
    ctx.fillText('Y', 657, 352);
    ctx.font = '42px ' + SERIF;
    ctx.fillText('3/5', 708, 327);
    // annotation
    ctx.save();
    ctx.fillStyle = '#228B22';
    ctx.font = '98px ' + SANS;
    ctx.textAlign = 'center';
    ctx.translate(1240, 129);
    ctx.rotate(-34 * Math.PI / 180);
    ctx.fillText('Virial', 0, 0);
    ctx.fillText('theorem', 0, 114);
    ctx.restore();
    ctx.restore();
  }
};

new Chart(document.getElementById('c'), {
  type: 'scatter',
  data: { datasets: [
    { label: 'IllustrisTNG', data: toXY(illustrisTNG), backgroundColor: ORANGE, borderWidth: 0, pointRadius: 8, pointHoverRadius: 8, order: 3 },
    { label: 'Scatter mean', data: toXY(scatterMean), showLine: true, borderColor: BLUE, borderWidth: 5, borderDash: [18.5, 8], pointRadius: 0, fill: false, order: 2 },
    { label: 'M \u221D Y^(3/5)', data: toXY(virialLine), showLine: true, borderColor: GREEN, borderWidth: 5, borderDash: [5, 8.25], pointRadius: 0, fill: false, order: 1 }
  ]},
  options: {
    responsive: false, animation: false, devicePixelRatio: 1, events: [],
    layout: { padding: { left: 269, top: 74, right: 0, bottom: 184 } },
    scales: {
      x: { type: 'logarithmic', min: xRange[0], max: xRange[1], display: false },
      y: { type: 'logarithmic', min: yRange[0], max: yRange[1], display: false }
    },
    plugins: { legend: { display: false }, tooltip: { enabled: false } }
  },
  plugins: [mplPlugin]
});
</script>
</body></html>
